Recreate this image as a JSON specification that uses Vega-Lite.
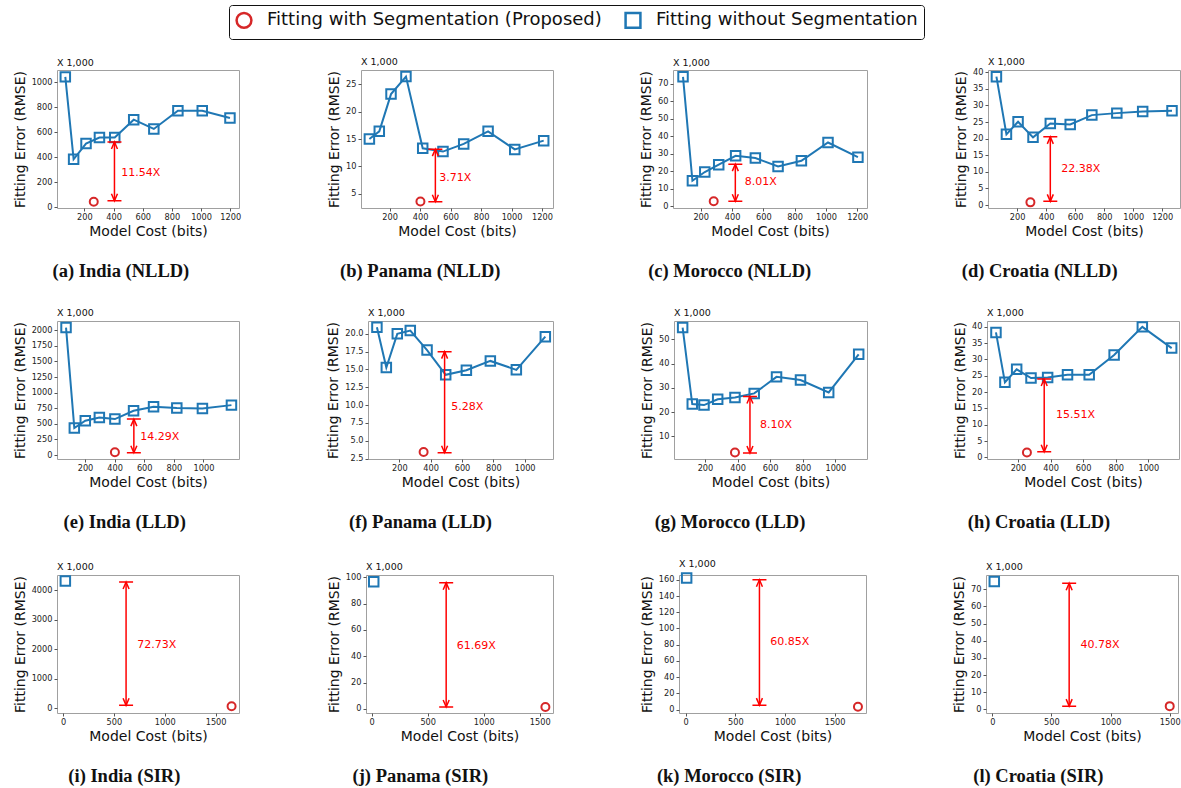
{
"$schema":"https://vega.github.io/schema/vega-lite/v6.json",
"padding":{"left":12,"top":4,"right":2,"bottom":2},
"datasets":{"d":[
{"p":"a","k":"w","x":69,"y":1045},{"p":"a","k":"w","x":126,"y":385},{"p":"a","k":"w","x":211,"y":511},{"p":"a","k":"w","x":303,"y":559},{"p":"a","k":"w","x":408,"y":559},{"p":"a","k":"w","x":538,"y":702},{"p":"a","k":"w","x":676,"y":628},{"p":"a","k":"w","x":841,"y":774},{"p":"a","k":"w","x":1008,"y":774},{"p":"a","k":"w","x":1198,"y":715},{"p":"a","k":"s","x":264,"y":45},{"p":"a","k":"a","x":406,"y1":53,"y2":524,"lx":452,"ly":277,"t":"11.54X"},
{"p":"b","k":"w","x":67,"y":15.0},{"p":"b","k":"w","x":132,"y":16.4},{"p":"b","k":"w","x":209,"y":23.2},{"p":"b","k":"w","x":307,"y":26.4},{"p":"b","k":"w","x":417,"y":13.3},{"p":"b","k":"w","x":550,"y":12.7},{"p":"b","k":"w","x":686,"y":14.1},{"p":"b","k":"w","x":846,"y":16.4},{"p":"b","k":"w","x":1021,"y":13.1},{"p":"b","k":"w","x":1211,"y":14.7},{"p":"b","k":"s","x":402,"y":3.6},{"p":"b","k":"a","x":500,"y1":3.55,"y2":13.15,"lx":525,"ly":7.86,"t":"3.71X"},
{"p":"c","k":"w","x":87,"y":74.1},{"p":"c","k":"w","x":147,"y":14.6},{"p":"c","k":"w","x":226,"y":19.6},{"p":"c","k":"w","x":315,"y":23.8},{"p":"c","k":"w","x":423,"y":28.9},{"p":"c","k":"w","x":549,"y":27.6},{"p":"c","k":"w","x":694,"y":22.8},{"p":"c","k":"w","x":843,"y":26.0},{"p":"c","k":"w","x":1013,"y":36.5},{"p":"c","k":"w","x":1204,"y":28.1},{"p":"c","k":"s","x":283,"y":2.9},{"p":"c","k":"a","x":421,"y1":2.9,"y2":24.1,"lx":481,"ly":13.7,"t":"8.01X"},
{"p":"d","k":"w","x":58,"y":38.7},{"p":"d","k":"w","x":127,"y":21.3},{"p":"d","k":"w","x":207,"y":25.1},{"p":"d","k":"w","x":310,"y":20.4},{"p":"d","k":"w","x":429,"y":24.6},{"p":"d","k":"w","x":566,"y":24.3},{"p":"d","k":"w","x":715,"y":27.1},{"p":"d","k":"w","x":887,"y":27.7},{"p":"d","k":"w","x":1065,"y":28.2},{"p":"d","k":"w","x":1267,"y":28.4},{"p":"d","k":"s","x":292,"y":0.8},{"p":"d","k":"a","x":429,"y1":1.1,"y2":20.55,"lx":504,"ly":10.8,"t":"22.38X"},
{"p":"e","k":"w","x":72,"y":2043},{"p":"e","k":"w","x":128,"y":432},{"p":"e","k":"w","x":202,"y":549},{"p":"e","k":"w","x":297,"y":603},{"p":"e","k":"w","x":402,"y":576},{"p":"e","k":"w","x":528,"y":709},{"p":"e","k":"w","x":663,"y":773},{"p":"e","k":"w","x":820,"y":752},{"p":"e","k":"w","x":993,"y":747},{"p":"e","k":"w","x":1189,"y":800},{"p":"e","k":"s","x":402,"y":43},{"p":"e","k":"a","x":530,"y1":37,"y2":576,"lx":573,"ly":283,"t":"14.29X"},
{"p":"f","k":"w","x":57,"y":20.93},{"p":"f","k":"w","x":117,"y":15.28},{"p":"f","k":"w","x":187,"y":20.0},{"p":"f","k":"w","x":270,"y":20.46},{"p":"f","k":"w","x":377,"y":17.73},{"p":"f","k":"w","x":496,"y":14.25},{"p":"f","k":"w","x":628,"y":14.9},{"p":"f","k":"w","x":781,"y":16.2},{"p":"f","k":"w","x":947,"y":14.95},{"p":"f","k":"w","x":1132,"y":19.6},{"p":"f","k":"s","x":355,"y":3.43},{"p":"f","k":"a","x":489,"y1":3.33,"y2":17.5,"lx":532,"ly":9.69,"t":"5.28X"},
{"p":"g","k":"w","x":63,"y":54.8},{"p":"g","k":"w","x":122,"y":23.3},{"p":"g","k":"w","x":194,"y":22.9},{"p":"g","k":"w","x":278,"y":25.3},{"p":"g","k":"w","x":384,"y":26.0},{"p":"g","k":"w","x":502,"y":27.7},{"p":"g","k":"w","x":639,"y":34.5},{"p":"g","k":"w","x":786,"y":33.2},{"p":"g","k":"w","x":959,"y":28.1},{"p":"g","k":"w","x":1143,"y":43.8},{"p":"g","k":"s","x":384,"y":3.4},{"p":"g","k":"a","x":476,"y1":3.15,"y2":26.4,"lx":537,"ly":14.8,"t":"8.10X"},
{"p":"h","k":"w","x":65,"y":38.3},{"p":"h","k":"w","x":120,"y":23.0},{"p":"h","k":"w","x":192,"y":27.0},{"p":"h","k":"w","x":280,"y":24.3},{"p":"h","k":"w","x":382,"y":24.5},{"p":"h","k":"w","x":504,"y":25.3},{"p":"h","k":"w","x":637,"y":25.3},{"p":"h","k":"w","x":790,"y":31.4},{"p":"h","k":"w","x":963,"y":40.0},{"p":"h","k":"w","x":1143,"y":33.5},{"p":"h","k":"s","x":255,"y":1.5},{"p":"h","k":"a","x":361,"y1":1.7,"y2":24.0,"lx":433,"ly":13.0,"t":"15.51X"},
{"p":"i","k":"w","x":23,"y":4318},{"p":"i","k":"s","x":1657,"y":57},{"p":"i","k":"a","x":620,"y1":91,"y2":4284,"lx":729,"ly":2159,"t":"72.73X"},
{"p":"j","k":"w","x":18,"y":96.7},{"p":"j","k":"s","x":1551,"y":1.5},{"p":"j","k":"a","x":665,"y1":1.5,"y2":95.9,"lx":760,"ly":48.1,"t":"61.69X"},
{"p":"k","k":"w","x":10,"y":162.1},{"p":"k","k":"s","x":1735,"y":3.4},{"p":"k","k":"a","x":743,"y1":5.5,"y2":160,"lx":851,"ly":83.4,"t":"60.85X"},
{"p":"l","k":"w","x":17,"y":74.5},{"p":"l","k":"s","x":1500,"y":1.9},{"p":"l","k":"a","x":650,"y1":1.9,"y2":73.5,"lx":746,"ly":37.7,"t":"40.78X"}
]},
"vconcat":[
{"hconcat":[
{"title":{"text":"(a) India (NLLD)","orient":"bottom","anchor":"middle","offset":23,"dx":-6},"vconcat":[{"width":182,"height":138,"title":{"text":"X 1,000","anchor":"start","frame":"group","font":"DejaVu Sans","fontSize":9.5,"fontWeight":"normal","offset":1},"data":{"name":"d"},"transform":[{"filter":"datum.p=='a'"}],
"encoding":{"x":{"field":"x","type":"quantitative","scale":{"domain":[12,1260],"nice":false,"zero":false},"axis":{"values":[200,400,600,800,1000,1200],"format":"d","title":"Model Cost (bits)"}},"y":{"field":"y","type":"quantitative","scale":{"domain":[-5,1100],"nice":false,"zero":false},"axis":{"values":[0,200,400,600,800,1000],"format":"d","title":"Fitting Error (RMSE)"}}},
"layer":[
{"transform":[{"filter":"datum.k=='w'"}],"mark":{"type":"line","color":"#1f77b4","strokeWidth":2},"encoding":{}},
{"transform":[{"filter":"datum.k=='w'"}],"mark":{"type":"point","filled":false,"size":90,"strokeWidth":2,"opacity":1},"encoding":{"color":{"field":"k","type":"nominal","scale":{"domain":["s","w"],"range":["#d62728","#1f77b4"]},"legend":{"title":null,"labelExpr":"datum.value=='s' ? 'Fitting with Segmentation (Proposed)' : 'Fitting without Segmentation'"}},"shape":{"field":"k","type":"nominal","scale":{"domain":["s","w"],"range":["circle","square"]},"legend":{"title":null,"labelExpr":"datum.value=='s' ? 'Fitting with Segmentation (Proposed)' : 'Fitting without Segmentation'"}}}},
{"transform":[{"filter":"datum.k=='s'"}],"mark":{"type":"point","filled":false,"size":64,"strokeWidth":2,"opacity":1},"encoding":{"color":{"field":"k","type":"nominal","scale":{"domain":["s","w"],"range":["#d62728","#1f77b4"]}},"shape":{"field":"k","type":"nominal","scale":{"domain":["s","w"],"range":["circle","square"]}}}},
{"transform":[{"filter":"datum.k=='a'"}],"mark":{"type":"rule","color":"#ff0000","strokeWidth":1.5},"encoding":{"y":{"field":"y1","type":"quantitative"},"y2":{"field":"y2"}}},
{"transform":[{"filter":"datum.k=='a'"}],"mark":{"type":"point","shape":"M-1,0L1,0M-0.43,1L0,0L0.43,1","filled":false,"size":196,"strokeWidth":1.5,"color":"#ff0000","opacity":1},"encoding":{"y":{"field":"y2","type":"quantitative"}}},
{"transform":[{"filter":"datum.k=='a'"}],"mark":{"type":"point","shape":"M-1,0L1,0M-0.43,-1L0,0L0.43,-1","filled":false,"size":196,"strokeWidth":1.5,"color":"#ff0000","opacity":1},"encoding":{"y":{"field":"y1","type":"quantitative"}}},
{"transform":[{"filter":"datum.k=='a'"}],"mark":{"type":"text","align":"left","baseline":"middle","color":"#ff0000","fontSize":11,"font":"DejaVu Sans"},"encoding":{"x":{"field":"lx","type":"quantitative"},"y":{"field":"ly","type":"quantitative"},"text":{"field":"t"}}}
]}]},
{"title":{"text":"(b) Panama (NLLD)","orient":"bottom","anchor":"middle","offset":23,"dx":-20},"vconcat":[{"width":192,"height":138,"title":{"text":"X 1,000","anchor":"start","frame":"group","font":"DejaVu Sans","fontSize":9.5,"fontWeight":"normal","offset":1},"data":{"name":"d"},"transform":[{"filter":"datum.p=='b'"}],
"encoding":{"x":{"field":"x","type":"quantitative","scale":{"domain":[12,1272],"nice":false,"zero":false},"axis":{"values":[200,400,600,800,1000,1200],"format":"d","title":"Model Cost (bits)"}},"y":{"field":"y","type":"quantitative","scale":{"domain":[2.4,27.6],"nice":false,"zero":false},"axis":{"values":[5,10,15,20,25],"format":"d","title":"Fitting Error (RMSE)"}}},
"layer":[
{"transform":[{"filter":"datum.k=='w'"}],"mark":{"type":"line","color":"#1f77b4","strokeWidth":2},"encoding":{}},
{"transform":[{"filter":"datum.k=='w'"}],"mark":{"type":"point","filled":false,"size":90,"strokeWidth":2,"opacity":1},"encoding":{"color":{"field":"k","type":"nominal","scale":{"domain":["s","w"],"range":["#d62728","#1f77b4"]}},"shape":{"field":"k","type":"nominal","scale":{"domain":["s","w"],"range":["circle","square"]}}}},
{"transform":[{"filter":"datum.k=='s'"}],"mark":{"type":"point","filled":false,"size":64,"strokeWidth":2,"opacity":1},"encoding":{"color":{"field":"k","type":"nominal","scale":{"domain":["s","w"],"range":["#d62728","#1f77b4"]}},"shape":{"field":"k","type":"nominal","scale":{"domain":["s","w"],"range":["circle","square"]}}}},
{"transform":[{"filter":"datum.k=='a'"}],"mark":{"type":"rule","color":"#ff0000","strokeWidth":1.5},"encoding":{"y":{"field":"y1","type":"quantitative"},"y2":{"field":"y2"}}},
{"transform":[{"filter":"datum.k=='a'"}],"mark":{"type":"point","shape":"M-1,0L1,0M-0.43,1L0,0L0.43,1","filled":false,"size":196,"strokeWidth":1.5,"color":"#ff0000","opacity":1},"encoding":{"y":{"field":"y2","type":"quantitative"}}},
{"transform":[{"filter":"datum.k=='a'"}],"mark":{"type":"point","shape":"M-1,0L1,0M-0.43,-1L0,0L0.43,-1","filled":false,"size":196,"strokeWidth":1.5,"color":"#ff0000","opacity":1},"encoding":{"y":{"field":"y1","type":"quantitative"}}},
{"transform":[{"filter":"datum.k=='a'"}],"mark":{"type":"text","align":"left","baseline":"middle","color":"#ff0000","fontSize":11,"font":"DejaVu Sans"},"encoding":{"x":{"field":"lx","type":"quantitative"},"y":{"field":"ly","type":"quantitative"},"text":{"field":"t"}}}
]}]},
{"title":{"text":"(c) Morocco (NLLD)","orient":"bottom","anchor":"middle","offset":23,"dx":-24},"vconcat":[{"width":194,"height":138,"title":{"text":"X 1,000","anchor":"start","frame":"group","font":"DejaVu Sans","fontSize":9.5,"fontWeight":"normal","offset":1},"data":{"name":"d"},"transform":[{"filter":"datum.p=='c'"}],
"encoding":{"x":{"field":"x","type":"quantitative","scale":{"domain":[23,1262],"nice":false,"zero":false},"axis":{"values":[200,400,600,800,1000,1200],"format":"d","title":"Model Cost (bits)"}},"y":{"field":"y","type":"quantitative","scale":{"domain":[-1,78],"nice":false,"zero":false},"axis":{"values":[0,10,20,30,40,50,60,70],"format":"d","title":"Fitting Error (RMSE)"}}},
"layer":[
{"transform":[{"filter":"datum.k=='w'"}],"mark":{"type":"line","color":"#1f77b4","strokeWidth":2},"encoding":{}},
{"transform":[{"filter":"datum.k=='w'"}],"mark":{"type":"point","filled":false,"size":90,"strokeWidth":2,"opacity":1},"encoding":{"color":{"field":"k","type":"nominal","scale":{"domain":["s","w"],"range":["#d62728","#1f77b4"]}},"shape":{"field":"k","type":"nominal","scale":{"domain":["s","w"],"range":["circle","square"]}}}},
{"transform":[{"filter":"datum.k=='s'"}],"mark":{"type":"point","filled":false,"size":64,"strokeWidth":2,"opacity":1},"encoding":{"color":{"field":"k","type":"nominal","scale":{"domain":["s","w"],"range":["#d62728","#1f77b4"]}},"shape":{"field":"k","type":"nominal","scale":{"domain":["s","w"],"range":["circle","square"]}}}},
{"transform":[{"filter":"datum.k=='a'"}],"mark":{"type":"rule","color":"#ff0000","strokeWidth":1.5},"encoding":{"y":{"field":"y1","type":"quantitative"},"y2":{"field":"y2"}}},
{"transform":[{"filter":"datum.k=='a'"}],"mark":{"type":"point","shape":"M-1,0L1,0M-0.43,1L0,0L0.43,1","filled":false,"size":196,"strokeWidth":1.5,"color":"#ff0000","opacity":1},"encoding":{"y":{"field":"y2","type":"quantitative"}}},
{"transform":[{"filter":"datum.k=='a'"}],"mark":{"type":"point","shape":"M-1,0L1,0M-0.43,-1L0,0L0.43,-1","filled":false,"size":196,"strokeWidth":1.5,"color":"#ff0000","opacity":1},"encoding":{"y":{"field":"y1","type":"quantitative"}}},
{"transform":[{"filter":"datum.k=='a'"}],"mark":{"type":"text","align":"left","baseline":"middle","color":"#ff0000","fontSize":11,"font":"DejaVu Sans"},"encoding":{"x":{"field":"lx","type":"quantitative"},"y":{"field":"ly","type":"quantitative"},"text":{"field":"t"}}}
]}]},
{"title":{"text":"(d) Croatia (NLLD)","orient":"bottom","anchor":"middle","offset":23,"dx":-28},"vconcat":[{"width":192,"height":138,"title":{"text":"X 1,000","anchor":"start","frame":"group","font":"DejaVu Sans","fontSize":9.5,"fontWeight":"normal","offset":1},"data":{"name":"d"},"transform":[{"filter":"datum.p=='d'"}],
"encoding":{"x":{"field":"x","type":"quantitative","scale":{"domain":[0,1322],"nice":false,"zero":false},"axis":{"values":[200,400,600,800,1000,1200],"format":"d","title":"Model Cost (bits)"}},"y":{"field":"y","type":"quantitative","scale":{"domain":[-0.9,40.7],"nice":false,"zero":false},"axis":{"values":[0,5,10,15,20,25,30,35,40],"format":"d","title":"Fitting Error (RMSE)"}}},
"layer":[
{"transform":[{"filter":"datum.k=='w'"}],"mark":{"type":"line","color":"#1f77b4","strokeWidth":2},"encoding":{}},
{"transform":[{"filter":"datum.k=='w'"}],"mark":{"type":"point","filled":false,"size":90,"strokeWidth":2,"opacity":1},"encoding":{"color":{"field":"k","type":"nominal","scale":{"domain":["s","w"],"range":["#d62728","#1f77b4"]}},"shape":{"field":"k","type":"nominal","scale":{"domain":["s","w"],"range":["circle","square"]}}}},
{"transform":[{"filter":"datum.k=='s'"}],"mark":{"type":"point","filled":false,"size":64,"strokeWidth":2,"opacity":1},"encoding":{"color":{"field":"k","type":"nominal","scale":{"domain":["s","w"],"range":["#d62728","#1f77b4"]}},"shape":{"field":"k","type":"nominal","scale":{"domain":["s","w"],"range":["circle","square"]}}}},
{"transform":[{"filter":"datum.k=='a'"}],"mark":{"type":"rule","color":"#ff0000","strokeWidth":1.5},"encoding":{"y":{"field":"y1","type":"quantitative"},"y2":{"field":"y2"}}},
{"transform":[{"filter":"datum.k=='a'"}],"mark":{"type":"point","shape":"M-1,0L1,0M-0.43,1L0,0L0.43,1","filled":false,"size":196,"strokeWidth":1.5,"color":"#ff0000","opacity":1},"encoding":{"y":{"field":"y2","type":"quantitative"}}},
{"transform":[{"filter":"datum.k=='a'"}],"mark":{"type":"point","shape":"M-1,0L1,0M-0.43,-1L0,0L0.43,-1","filled":false,"size":196,"strokeWidth":1.5,"color":"#ff0000","opacity":1},"encoding":{"y":{"field":"y1","type":"quantitative"}}},
{"transform":[{"filter":"datum.k=='a'"}],"mark":{"type":"text","align":"left","baseline":"middle","color":"#ff0000","fontSize":11,"font":"DejaVu Sans"},"encoding":{"x":{"field":"lx","type":"quantitative"},"y":{"field":"ly","type":"quantitative"},"text":{"field":"t"}}}
]}]}
],"spacing":85},
{"hconcat":[
{"title":{"text":"(e) India (LLD)","orient":"bottom","anchor":"middle","offset":23,"dx":-2},"vconcat":[{"width":182,"height":138,"title":{"text":"X 1,000","anchor":"start","frame":"group","font":"DejaVu Sans","fontSize":9.5,"fontWeight":"normal","offset":1},"data":{"name":"d"},"transform":[{"filter":"datum.p=='e'"}],
"encoding":{"x":{"field":"x","type":"quantitative","scale":{"domain":[11,1240],"nice":false,"zero":false},"axis":{"values":[200,400,600,800,1000],"format":"d","title":"Model Cost (bits)"}},"y":{"field":"y","type":"quantitative","scale":{"domain":[-64,2149],"nice":false,"zero":false},"axis":{"values":[0,250,500,750,1000,1250,1500,1750,2000],"format":"d","title":"Fitting Error (RMSE)"}}},
"layer":[
{"transform":[{"filter":"datum.k=='w'"}],"mark":{"type":"line","color":"#1f77b4","strokeWidth":2},"encoding":{}},
{"transform":[{"filter":"datum.k=='w'"}],"mark":{"type":"point","filled":false,"size":90,"strokeWidth":2,"opacity":1},"encoding":{"color":{"field":"k","type":"nominal","scale":{"domain":["s","w"],"range":["#d62728","#1f77b4"]}},"shape":{"field":"k","type":"nominal","scale":{"domain":["s","w"],"range":["circle","square"]}}}},
{"transform":[{"filter":"datum.k=='s'"}],"mark":{"type":"point","filled":false,"size":64,"strokeWidth":2,"opacity":1},"encoding":{"color":{"field":"k","type":"nominal","scale":{"domain":["s","w"],"range":["#d62728","#1f77b4"]}},"shape":{"field":"k","type":"nominal","scale":{"domain":["s","w"],"range":["circle","square"]}}}},
{"transform":[{"filter":"datum.k=='a'"}],"mark":{"type":"rule","color":"#ff0000","strokeWidth":1.5},"encoding":{"y":{"field":"y1","type":"quantitative"},"y2":{"field":"y2"}}},
{"transform":[{"filter":"datum.k=='a'"}],"mark":{"type":"point","shape":"M-1,0L1,0M-0.43,1L0,0L0.43,1","filled":false,"size":196,"strokeWidth":1.5,"color":"#ff0000","opacity":1},"encoding":{"y":{"field":"y2","type":"quantitative"}}},
{"transform":[{"filter":"datum.k=='a'"}],"mark":{"type":"point","shape":"M-1,0L1,0M-0.43,-1L0,0L0.43,-1","filled":false,"size":196,"strokeWidth":1.5,"color":"#ff0000","opacity":1},"encoding":{"y":{"field":"y1","type":"quantitative"}}},
{"transform":[{"filter":"datum.k=='a'"}],"mark":{"type":"text","align":"left","baseline":"middle","color":"#ff0000","fontSize":11,"font":"DejaVu Sans"},"encoding":{"x":{"field":"lx","type":"quantitative"},"y":{"field":"ly","type":"quantitative"},"text":{"field":"t"}}}
]}]},
{"title":{"text":"(f) Panama (LLD)","orient":"bottom","anchor":"middle","offset":23,"dx":-20},"vconcat":[{"width":185,"height":138,"title":{"text":"X 1,000","anchor":"start","frame":"group","font":"DejaVu Sans","fontSize":9.5,"fontWeight":"normal","offset":1},"data":{"name":"d"},"transform":[{"filter":"datum.p=='f'"}],
"encoding":{"x":{"field":"x","type":"quantitative","scale":{"domain":[0,1181],"nice":false,"zero":false},"axis":{"values":[200,400,600,800,1000],"format":"d","title":"Model Cost (bits)"}},"y":{"field":"y","type":"quantitative","scale":{"domain":[2.45,21.8],"nice":false,"zero":false},"axis":{"values":[2.5,5,7.5,10,12.5,15,17.5,20],"format":".1f","title":"Fitting Error (RMSE)"}}},
"layer":[
{"transform":[{"filter":"datum.k=='w'"}],"mark":{"type":"line","color":"#1f77b4","strokeWidth":2},"encoding":{}},
{"transform":[{"filter":"datum.k=='w'"}],"mark":{"type":"point","filled":false,"size":90,"strokeWidth":2,"opacity":1},"encoding":{"color":{"field":"k","type":"nominal","scale":{"domain":["s","w"],"range":["#d62728","#1f77b4"]}},"shape":{"field":"k","type":"nominal","scale":{"domain":["s","w"],"range":["circle","square"]}}}},
{"transform":[{"filter":"datum.k=='s'"}],"mark":{"type":"point","filled":false,"size":64,"strokeWidth":2,"opacity":1},"encoding":{"color":{"field":"k","type":"nominal","scale":{"domain":["s","w"],"range":["#d62728","#1f77b4"]}},"shape":{"field":"k","type":"nominal","scale":{"domain":["s","w"],"range":["circle","square"]}}}},
{"transform":[{"filter":"datum.k=='a'"}],"mark":{"type":"rule","color":"#ff0000","strokeWidth":1.5},"encoding":{"y":{"field":"y1","type":"quantitative"},"y2":{"field":"y2"}}},
{"transform":[{"filter":"datum.k=='a'"}],"mark":{"type":"point","shape":"M-1,0L1,0M-0.43,1L0,0L0.43,1","filled":false,"size":196,"strokeWidth":1.5,"color":"#ff0000","opacity":1},"encoding":{"y":{"field":"y2","type":"quantitative"}}},
{"transform":[{"filter":"datum.k=='a'"}],"mark":{"type":"point","shape":"M-1,0L1,0M-0.43,-1L0,0L0.43,-1","filled":false,"size":196,"strokeWidth":1.5,"color":"#ff0000","opacity":1},"encoding":{"y":{"field":"y1","type":"quantitative"}}},
{"transform":[{"filter":"datum.k=='a'"}],"mark":{"type":"text","align":"left","baseline":"middle","color":"#ff0000","fontSize":11,"font":"DejaVu Sans"},"encoding":{"x":{"field":"lx","type":"quantitative"},"y":{"field":"ly","type":"quantitative"},"text":{"field":"t"}}}
]}]},
{"title":{"text":"(g) Morocco (LLD)","orient":"bottom","anchor":"middle","offset":23,"dx":-24},"vconcat":[{"width":193,"height":138,"title":{"text":"X 1,000","anchor":"start","frame":"group","font":"DejaVu Sans","fontSize":9.5,"fontWeight":"normal","offset":1},"data":{"name":"d"},"transform":[{"filter":"datum.p=='g'"}],
"encoding":{"x":{"field":"x","type":"quantitative","scale":{"domain":[10,1194],"nice":false,"zero":false},"axis":{"values":[200,400,600,800,1000],"format":"d","title":"Model Cost (bits)"}},"y":{"field":"y","type":"quantitative","scale":{"domain":[0.7,57.5],"nice":false,"zero":false},"axis":{"values":[10,20,30,40,50],"format":"d","title":"Fitting Error (RMSE)"}}},
"layer":[
{"transform":[{"filter":"datum.k=='w'"}],"mark":{"type":"line","color":"#1f77b4","strokeWidth":2},"encoding":{}},
{"transform":[{"filter":"datum.k=='w'"}],"mark":{"type":"point","filled":false,"size":90,"strokeWidth":2,"opacity":1},"encoding":{"color":{"field":"k","type":"nominal","scale":{"domain":["s","w"],"range":["#d62728","#1f77b4"]}},"shape":{"field":"k","type":"nominal","scale":{"domain":["s","w"],"range":["circle","square"]}}}},
{"transform":[{"filter":"datum.k=='s'"}],"mark":{"type":"point","filled":false,"size":64,"strokeWidth":2,"opacity":1},"encoding":{"color":{"field":"k","type":"nominal","scale":{"domain":["s","w"],"range":["#d62728","#1f77b4"]}},"shape":{"field":"k","type":"nominal","scale":{"domain":["s","w"],"range":["circle","square"]}}}},
{"transform":[{"filter":"datum.k=='a'"}],"mark":{"type":"rule","color":"#ff0000","strokeWidth":1.5},"encoding":{"y":{"field":"y1","type":"quantitative"},"y2":{"field":"y2"}}},
{"transform":[{"filter":"datum.k=='a'"}],"mark":{"type":"point","shape":"M-1,0L1,0M-0.43,1L0,0L0.43,1","filled":false,"size":196,"strokeWidth":1.5,"color":"#ff0000","opacity":1},"encoding":{"y":{"field":"y2","type":"quantitative"}}},
{"transform":[{"filter":"datum.k=='a'"}],"mark":{"type":"point","shape":"M-1,0L1,0M-0.43,-1L0,0L0.43,-1","filled":false,"size":196,"strokeWidth":1.5,"color":"#ff0000","opacity":1},"encoding":{"y":{"field":"y1","type":"quantitative"}}},
{"transform":[{"filter":"datum.k=='a'"}],"mark":{"type":"text","align":"left","baseline":"middle","color":"#ff0000","fontSize":11,"font":"DejaVu Sans"},"encoding":{"x":{"field":"lx","type":"quantitative"},"y":{"field":"ly","type":"quantitative"},"text":{"field":"t"}}}
]}]},
{"title":{"text":"(h) Croatia (LLD)","orient":"bottom","anchor":"middle","offset":23,"dx":-28},"vconcat":[{"width":192,"height":138,"title":{"text":"X 1,000","anchor":"start","frame":"group","font":"DejaVu Sans","fontSize":9.5,"fontWeight":"normal","offset":1},"data":{"name":"d"},"transform":[{"filter":"datum.p=='h'"}],
"encoding":{"x":{"field":"x","type":"quantitative","scale":{"domain":[10,1188],"nice":false,"zero":false},"axis":{"values":[200,400,600,800,1000],"format":"d","title":"Model Cost (bits)"}},"y":{"field":"y","type":"quantitative","scale":{"domain":[-0.5,41.8],"nice":false,"zero":false},"axis":{"values":[0,5,10,15,20,25,30,35,40],"format":"d","title":"Fitting Error (RMSE)"}}},
"layer":[
{"transform":[{"filter":"datum.k=='w'"}],"mark":{"type":"line","color":"#1f77b4","strokeWidth":2},"encoding":{}},
{"transform":[{"filter":"datum.k=='w'"}],"mark":{"type":"point","filled":false,"size":90,"strokeWidth":2,"opacity":1},"encoding":{"color":{"field":"k","type":"nominal","scale":{"domain":["s","w"],"range":["#d62728","#1f77b4"]}},"shape":{"field":"k","type":"nominal","scale":{"domain":["s","w"],"range":["circle","square"]}}}},
{"transform":[{"filter":"datum.k=='s'"}],"mark":{"type":"point","filled":false,"size":64,"strokeWidth":2,"opacity":1},"encoding":{"color":{"field":"k","type":"nominal","scale":{"domain":["s","w"],"range":["#d62728","#1f77b4"]}},"shape":{"field":"k","type":"nominal","scale":{"domain":["s","w"],"range":["circle","square"]}}}},
{"transform":[{"filter":"datum.k=='a'"}],"mark":{"type":"rule","color":"#ff0000","strokeWidth":1.5},"encoding":{"y":{"field":"y1","type":"quantitative"},"y2":{"field":"y2"}}},
{"transform":[{"filter":"datum.k=='a'"}],"mark":{"type":"point","shape":"M-1,0L1,0M-0.43,1L0,0L0.43,1","filled":false,"size":196,"strokeWidth":1.5,"color":"#ff0000","opacity":1},"encoding":{"y":{"field":"y2","type":"quantitative"}}},
{"transform":[{"filter":"datum.k=='a'"}],"mark":{"type":"point","shape":"M-1,0L1,0M-0.43,-1L0,0L0.43,-1","filled":false,"size":196,"strokeWidth":1.5,"color":"#ff0000","opacity":1},"encoding":{"y":{"field":"y1","type":"quantitative"}}},
{"transform":[{"filter":"datum.k=='a'"}],"mark":{"type":"text","align":"left","baseline":"middle","color":"#ff0000","fontSize":11,"font":"DejaVu Sans"},"encoding":{"x":{"field":"lx","type":"quantitative"},"y":{"field":"ly","type":"quantitative"},"text":{"field":"t"}}}
]}]}
],"spacing":85},
{"hconcat":[
{"title":{"text":"(i) India (SIR)","orient":"bottom","anchor":"middle","offset":23,"dx":-2},"vconcat":[{"width":182,"height":138,"title":{"text":"X 1,000","anchor":"start","frame":"group","font":"DejaVu Sans","fontSize":9.5,"fontWeight":"normal","offset":1},"data":{"name":"d"},"transform":[{"filter":"datum.p=='i'"}],
"encoding":{"x":{"field":"x","type":"quantitative","scale":{"domain":[-59,1730],"nice":false,"zero":false},"axis":{"values":[0,500,1000,1500],"format":"d","title":"Model Cost (bits)"}},"y":{"field":"y","type":"quantitative","scale":{"domain":[-170,4523],"nice":false,"zero":false},"axis":{"values":[0,1000,2000,3000,4000],"format":"d","title":"Fitting Error (RMSE)"}}},
"layer":[
{"transform":[{"filter":"datum.k=='w'"}],"mark":{"type":"point","filled":false,"size":90,"strokeWidth":2,"opacity":1},"encoding":{"color":{"field":"k","type":"nominal","scale":{"domain":["s","w"],"range":["#d62728","#1f77b4"]}},"shape":{"field":"k","type":"nominal","scale":{"domain":["s","w"],"range":["circle","square"]}}}},
{"transform":[{"filter":"datum.k=='s'"}],"mark":{"type":"point","filled":false,"size":64,"strokeWidth":2,"opacity":1},"encoding":{"color":{"field":"k","type":"nominal","scale":{"domain":["s","w"],"range":["#d62728","#1f77b4"]}},"shape":{"field":"k","type":"nominal","scale":{"domain":["s","w"],"range":["circle","square"]}}}},
{"transform":[{"filter":"datum.k=='a'"}],"mark":{"type":"rule","color":"#ff0000","strokeWidth":1.5},"encoding":{"y":{"field":"y1","type":"quantitative"},"y2":{"field":"y2"}}},
{"transform":[{"filter":"datum.k=='a'"}],"mark":{"type":"point","shape":"M-1,0L1,0M-0.43,1L0,0L0.43,1","filled":false,"size":196,"strokeWidth":1.5,"color":"#ff0000","opacity":1},"encoding":{"y":{"field":"y2","type":"quantitative"}}},
{"transform":[{"filter":"datum.k=='a'"}],"mark":{"type":"point","shape":"M-1,0L1,0M-0.43,-1L0,0L0.43,-1","filled":false,"size":196,"strokeWidth":1.5,"color":"#ff0000","opacity":1},"encoding":{"y":{"field":"y1","type":"quantitative"}}},
{"transform":[{"filter":"datum.k=='a'"}],"mark":{"type":"text","align":"left","baseline":"middle","color":"#ff0000","fontSize":11,"font":"DejaVu Sans"},"encoding":{"x":{"field":"lx","type":"quantitative"},"y":{"field":"ly","type":"quantitative"},"text":{"field":"t"}}}
]}]},
{"title":{"text":"(j) Panama (SIR)","orient":"bottom","anchor":"middle","offset":23,"dx":-20},"vconcat":[{"width":187,"height":138,"title":{"text":"X 1,000","anchor":"start","frame":"group","font":"DejaVu Sans","fontSize":9.5,"fontWeight":"normal","offset":1},"data":{"name":"d"},"transform":[{"filter":"datum.p=='j'"}],
"encoding":{"x":{"field":"x","type":"quantitative","scale":{"domain":[-51,1619],"nice":false,"zero":false},"axis":{"values":[0,500,1000,1500],"format":"d","title":"Model Cost (bits)"}},"y":{"field":"y","type":"quantitative","scale":{"domain":[-3.1,101.8],"nice":false,"zero":false},"axis":{"values":[0,20,40,60,80,100],"format":"d","title":"Fitting Error (RMSE)"}}},
"layer":[
{"transform":[{"filter":"datum.k=='w'"}],"mark":{"type":"point","filled":false,"size":90,"strokeWidth":2,"opacity":1},"encoding":{"color":{"field":"k","type":"nominal","scale":{"domain":["s","w"],"range":["#d62728","#1f77b4"]}},"shape":{"field":"k","type":"nominal","scale":{"domain":["s","w"],"range":["circle","square"]}}}},
{"transform":[{"filter":"datum.k=='s'"}],"mark":{"type":"point","filled":false,"size":64,"strokeWidth":2,"opacity":1},"encoding":{"color":{"field":"k","type":"nominal","scale":{"domain":["s","w"],"range":["#d62728","#1f77b4"]}},"shape":{"field":"k","type":"nominal","scale":{"domain":["s","w"],"range":["circle","square"]}}}},
{"transform":[{"filter":"datum.k=='a'"}],"mark":{"type":"rule","color":"#ff0000","strokeWidth":1.5},"encoding":{"y":{"field":"y1","type":"quantitative"},"y2":{"field":"y2"}}},
{"transform":[{"filter":"datum.k=='a'"}],"mark":{"type":"point","shape":"M-1,0L1,0M-0.43,1L0,0L0.43,1","filled":false,"size":196,"strokeWidth":1.5,"color":"#ff0000","opacity":1},"encoding":{"y":{"field":"y2","type":"quantitative"}}},
{"transform":[{"filter":"datum.k=='a'"}],"mark":{"type":"point","shape":"M-1,0L1,0M-0.43,-1L0,0L0.43,-1","filled":false,"size":196,"strokeWidth":1.5,"color":"#ff0000","opacity":1},"encoding":{"y":{"field":"y1","type":"quantitative"}}},
{"transform":[{"filter":"datum.k=='a'"}],"mark":{"type":"text","align":"left","baseline":"middle","color":"#ff0000","fontSize":11,"font":"DejaVu Sans"},"encoding":{"x":{"field":"lx","type":"quantitative"},"y":{"field":"ly","type":"quantitative"},"text":{"field":"t"}}}
]}]},
{"title":{"text":"(k) Morocco (SIR)","orient":"bottom","anchor":"middle","offset":23,"dx":-24},"vconcat":[{"width":187,"height":138,"title":{"text":"X 1,000","anchor":"start","frame":"group","font":"DejaVu Sans","fontSize":9.5,"fontWeight":"normal","offset":1},"data":{"name":"d"},"transform":[{"filter":"datum.p=='k'"}],
"encoding":{"x":{"field":"x","type":"quantitative","scale":{"domain":[-67,1816],"nice":false,"zero":false},"axis":{"values":[0,500,1000,1500],"format":"d","title":"Model Cost (bits)"}},"y":{"field":"y","type":"quantitative","scale":{"domain":[-4.2,165.9],"nice":false,"zero":false},"axis":{"values":[0,20,40,60,80,100,120,140,160],"format":"d","title":"Fitting Error (RMSE)"}}},
"layer":[
{"transform":[{"filter":"datum.k=='w'"}],"mark":{"type":"point","filled":false,"size":90,"strokeWidth":2,"opacity":1},"encoding":{"color":{"field":"k","type":"nominal","scale":{"domain":["s","w"],"range":["#d62728","#1f77b4"]}},"shape":{"field":"k","type":"nominal","scale":{"domain":["s","w"],"range":["circle","square"]}}}},
{"transform":[{"filter":"datum.k=='s'"}],"mark":{"type":"point","filled":false,"size":64,"strokeWidth":2,"opacity":1},"encoding":{"color":{"field":"k","type":"nominal","scale":{"domain":["s","w"],"range":["#d62728","#1f77b4"]}},"shape":{"field":"k","type":"nominal","scale":{"domain":["s","w"],"range":["circle","square"]}}}},
{"transform":[{"filter":"datum.k=='a'"}],"mark":{"type":"rule","color":"#ff0000","strokeWidth":1.5},"encoding":{"y":{"field":"y1","type":"quantitative"},"y2":{"field":"y2"}}},
{"transform":[{"filter":"datum.k=='a'"}],"mark":{"type":"point","shape":"M-1,0L1,0M-0.43,1L0,0L0.43,1","filled":false,"size":196,"strokeWidth":1.5,"color":"#ff0000","opacity":1},"encoding":{"y":{"field":"y2","type":"quantitative"}}},
{"transform":[{"filter":"datum.k=='a'"}],"mark":{"type":"point","shape":"M-1,0L1,0M-0.43,-1L0,0L0.43,-1","filled":false,"size":196,"strokeWidth":1.5,"color":"#ff0000","opacity":1},"encoding":{"y":{"field":"y1","type":"quantitative"}}},
{"transform":[{"filter":"datum.k=='a'"}],"mark":{"type":"text","align":"left","baseline":"middle","color":"#ff0000","fontSize":11,"font":"DejaVu Sans"},"encoding":{"x":{"field":"lx","type":"quantitative"},"y":{"field":"ly","type":"quantitative"},"text":{"field":"t"}}}
]}]},
{"title":{"text":"(l) Croatia (SIR)","orient":"bottom","anchor":"middle","offset":23,"dx":-28},"vconcat":[{"width":192,"height":138,"title":{"text":"X 1,000","anchor":"start","frame":"group","font":"DejaVu Sans","fontSize":9.5,"fontWeight":"normal","offset":1},"data":{"name":"d"},"transform":[{"filter":"datum.p=='l'"}],
"encoding":{"x":{"field":"x","type":"quantitative","scale":{"domain":[-53,1570],"nice":false,"zero":false},"axis":{"values":[0,500,1000,1500],"format":"d","title":"Model Cost (bits)"}},"y":{"field":"y","type":"quantitative","scale":{"domain":[-2.1,78.3],"nice":false,"zero":false},"axis":{"values":[0,10,20,30,40,50,60,70],"format":"d","title":"Fitting Error (RMSE)"}}},
"layer":[
{"transform":[{"filter":"datum.k=='w'"}],"mark":{"type":"point","filled":false,"size":90,"strokeWidth":2,"opacity":1},"encoding":{"color":{"field":"k","type":"nominal","scale":{"domain":["s","w"],"range":["#d62728","#1f77b4"]}},"shape":{"field":"k","type":"nominal","scale":{"domain":["s","w"],"range":["circle","square"]}}}},
{"transform":[{"filter":"datum.k=='s'"}],"mark":{"type":"point","filled":false,"size":64,"strokeWidth":2,"opacity":1},"encoding":{"color":{"field":"k","type":"nominal","scale":{"domain":["s","w"],"range":["#d62728","#1f77b4"]}},"shape":{"field":"k","type":"nominal","scale":{"domain":["s","w"],"range":["circle","square"]}}}},
{"transform":[{"filter":"datum.k=='a'"}],"mark":{"type":"rule","color":"#ff0000","strokeWidth":1.5},"encoding":{"y":{"field":"y1","type":"quantitative"},"y2":{"field":"y2"}}},
{"transform":[{"filter":"datum.k=='a'"}],"mark":{"type":"point","shape":"M-1,0L1,0M-0.43,1L0,0L0.43,1","filled":false,"size":196,"strokeWidth":1.5,"color":"#ff0000","opacity":1},"encoding":{"y":{"field":"y2","type":"quantitative"}}},
{"transform":[{"filter":"datum.k=='a'"}],"mark":{"type":"point","shape":"M-1,0L1,0M-0.43,-1L0,0L0.43,-1","filled":false,"size":196,"strokeWidth":1.5,"color":"#ff0000","opacity":1},"encoding":{"y":{"field":"y1","type":"quantitative"}}},
{"transform":[{"filter":"datum.k=='a'"}],"mark":{"type":"text","align":"left","baseline":"middle","color":"#ff0000","fontSize":11,"font":"DejaVu Sans"},"encoding":{"x":{"field":"lx","type":"quantitative"},"y":{"field":"ly","type":"quantitative"},"text":{"field":"t"}}}
]}]}
],"spacing":85}
],
"spacing":26,
"config":{
"view":{"stroke":"#a0a0a0","strokeWidth":1},
"axis":{"grid":false,"domain":false,"tickColor":"#555555","tickSize":3,"labelFont":"DejaVu Sans","labelFontSize":8.2,"labelColor":"#222222","labelPadding":2,"titleFont":"DejaVu Sans","titleFontSize":14,"titleFontWeight":"normal","titleColor":"#111111","titlePadding":4},
"title":{"font":"Liberation Serif","fontSize":18.5,"fontWeight":"bold","color":"#111111"},
"legend":{"orient":"none","legendX":172,"legendY":-65,"direction":"horizontal","strokeColor":"#111111","padding":6,"cornerRadius":3,"labelFont":"DejaVu Sans","labelFontSize":18,"labelColor":"#111111","labelLimit":500,"symbolSize":220,"symbolStrokeWidth":2.5,"columnPadding":18,"labelOffset":14}
}
}
